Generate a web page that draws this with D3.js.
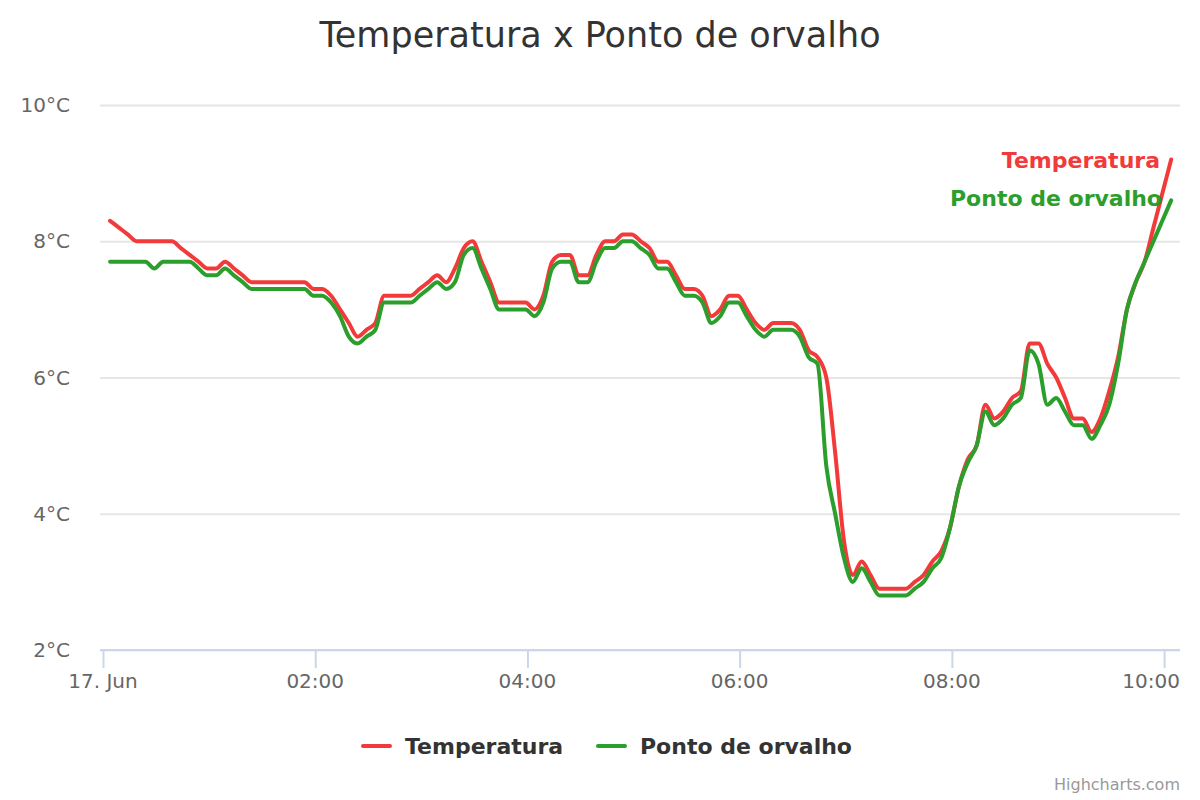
<!DOCTYPE html>
<html>
<head>
<meta charset="utf-8">
<script src="https://cdn.jsdelivr.net/npm/d3@7"></script>
<style>
  body { margin: 0; background: #fff; }
  svg { display: block; }
  text { font-family: "DejaVu Sans", sans-serif; }
</style>
</head>
<body>
<div id="chart"></div>
<script>
// minutes after midnight, 17 Jun, one reading every 5 min
const startMinute = 4
const stepMinutes = 5

const temperatura = [
  8.3, 8.2, 8.1, 8.0, 8.0, 8.0, 8.0, 8.0, 7.9, 7.8,
  7.7, 7.6, 7.6, 7.7, 7.6, 7.5, 7.4, 7.4, 7.4, 7.4,
  7.4, 7.4, 7.4, 7.3, 7.3, 7.2, 7.0, 6.8, 6.6, 6.7,
  6.8, 7.2, 7.2, 7.2, 7.2, 7.3, 7.4, 7.5, 7.4, 7.6,
  7.9, 8.0, 7.7, 7.4, 7.1, 7.1, 7.1, 7.1, 7.0, 7.2,
  7.7, 7.8, 7.8, 7.5, 7.5, 7.8, 8.0, 8.0, 8.1, 8.1,
  8.0, 7.9, 7.7, 7.7, 7.5, 7.3, 7.3, 7.2, 6.9, 7.0,
  7.2, 7.2, 7.0, 6.8, 6.7, 6.8, 6.8, 6.8, 6.7, 6.4,
  6.3, 6.0, 4.9, 3.6, 3.1, 3.3, 3.1, 2.9, 2.9, 2.9,
  2.9, 3.0, 3.1, 3.3, 3.45, 3.8, 4.4, 4.8, 5.0, 5.6,
  5.4, 5.5, 5.7, 5.8, 6.5, 6.5, 6.2, 6.0, 5.7, 5.4,
  5.4, 5.2, 5.4, 5.8, 6.3, 7.0, 7.4, 7.7, 8.2, 8.7,
  9.2
]

const pontoDeOrvalho = [
  7.7, 7.7, 7.7, 7.7, 7.7, 7.6, 7.7, 7.7, 7.7, 7.7,
  7.6, 7.5, 7.5, 7.6, 7.5, 7.4, 7.3, 7.3, 7.3, 7.3,
  7.3, 7.3, 7.3, 7.2, 7.2, 7.1, 6.9, 6.6, 6.5, 6.6,
  6.7, 7.1, 7.1, 7.1, 7.1, 7.2, 7.3, 7.4, 7.3, 7.4,
  7.8, 7.9, 7.6, 7.3, 7.0, 7.0, 7.0, 7.0, 6.9, 7.1,
  7.6, 7.7, 7.7, 7.4, 7.4, 7.7, 7.9, 7.9, 8.0, 8.0,
  7.9, 7.8, 7.6, 7.6, 7.4, 7.2, 7.2, 7.1, 6.8, 6.9,
  7.1, 7.1, 6.9, 6.7, 6.6, 6.7, 6.7, 6.7, 6.6, 6.3,
  6.2, 4.7, 4.0, 3.35, 3.0, 3.2, 3.0, 2.8, 2.8, 2.8,
  2.8, 2.9, 3.0, 3.2, 3.35, 3.8, 4.4, 4.75, 5.0, 5.5,
  5.3, 5.4, 5.6, 5.7, 6.4, 6.2, 5.6, 5.7, 5.5, 5.3,
  5.3, 5.1, 5.3, 5.6, 6.2, 7.0, 7.4, 7.7, 8.0, 8.3,
  8.6
]

const xTicks = [0, 120, 240, 360, 480, 600]
const xTickLabels = ['17. Jun', '02:00', '04:00', '06:00', '08:00', '10:00']
const yTicks = [2, 4, 6, 8, 10]

const series = [
  { name: 'Temperatura', values: temperatura, color: '#f33a3a' },
  { name: 'Ponto de orvalho', values: pontoDeOrvalho, color: '#2c9e2c' }
]

const width = 1200
const height = 800
const marginTop = 105
const marginRight = 20
const marginBottom = 150
const marginLeft = 103

const svg = d3.select('#chart')
              .append('svg')
              .attr('width', width)
              .attr('height', height)

const x = d3.scaleLinear()
            .domain([0, 609])
            .range([marginLeft, width - marginRight])

const y = d3.scaleLinear()
            .domain([2, 10])
            .range([height - marginBottom, marginTop])

svg.append('text')
   .attr('x', width / 2)
   .attr('y', 47)
   .attr('text-anchor', 'middle')
   .style('font-size', '35px')
   .attr('fill', '#333')
   .text('Temperatura x Ponto de orvalho')

// grid lines
const yAxis = svg.append('g')
                 .attr('transform', `translate(${marginLeft - 3}, 0)`)
                 .call(d3.axisLeft(y).tickValues(yTicks).tickSize(-(width - marginRight - marginLeft + 3)))
yAxis.select('.domain').remove()
yAxis.selectAll('text').remove()
yAxis.selectAll('line').attr('stroke', '#e6e6e6').attr('stroke-width', 2)

svg.selectAll('.y-label')
   .data(yTicks)
   .enter().append('text')
   .attr('class', 'y-label')
   .attr('x', 70)
   .attr('y', d => y(d) + 7)
   .attr('text-anchor', 'end')
   .attr('fill', '#666')
   .style('font-size', '20px')
   .text(d => `${d}°C`)

// x axis
const xAxis = svg.append('g')
                 .attr('transform', `translate(0, ${height - marginBottom})`)
                 .call(d3.axisBottom(x).tickValues(xTicks).tickSize(18).tickSizeOuter(0))
xAxis.selectAll('text').remove()
xAxis.select('.domain')
     .attr('d', `M${marginLeft - 3},0H${width - marginRight}`)
     .attr('stroke', '#ccd6eb')
     .attr('stroke-width', 2)
xAxis.selectAll('line').attr('stroke', '#ccd6eb').attr('stroke-width', 2)

svg.selectAll('.x-label')
   .data(xTicks)
   .enter().append('text')
   .attr('class', 'x-label')
   .attr('x', (d, i) => i === xTicks.length - 1 ? width - marginRight : x(d))
   .attr('y', height - marginBottom + 38)
   .attr('text-anchor', (d, i) => i === xTicks.length - 1 ? 'end' : 'middle')
   .attr('fill', '#666')
   .style('font-size', '20px')
   .text((d, i) => xTickLabels[i])

const line = d3.line()
               .x((d, i) => x(startMinute + i * stepMinutes))
               .y(d => y(d))
               .curve(d3.curveMonotoneX)

series.forEach(s => {
  svg.append('path')
     .datum(s.values)
     .attr('fill', 'none')
     .attr('stroke', s.color)
     .attr('stroke-width', 4)
     .attr('stroke-linejoin', 'round')
     .attr('stroke-linecap', 'round')
     .attr('d', line)
})

// end labels
const endLabelY = [168, 206]
series.forEach((s, i) => {
  svg.append('text')
     .attr('x', 1160 + i * 2)
     .attr('y', endLabelY[i])
     .attr('text-anchor', 'end')
     .style('font-size', '22px')
     .style('font-weight', 'bold')
     .attr('fill', s.color)
     .text(s.name)
})

// legend
const legendX = [363, 598]
series.forEach((s, i) => {
  svg.append('line')
     .attr('x1', legendX[i]).attr('x2', legendX[i] + 27)
     .attr('y1', 746).attr('y2', 746)
     .attr('stroke', s.color)
     .attr('stroke-width', 4)
     .attr('stroke-linecap', 'round')
  svg.append('text')
     .attr('x', legendX[i] + 42)
     .attr('y', 754)
     .style('font-size', '22px')
     .style('font-weight', 'bold')
     .attr('fill', '#333')
     .text(s.name)
})

svg.append('text')
   .attr('x', 1180)
   .attr('y', 790)
   .attr('text-anchor', 'end')
   .style('font-size', '16px')
   .attr('fill', '#999')
   .text('Highcharts.com')
</script>
</body>
</html>
